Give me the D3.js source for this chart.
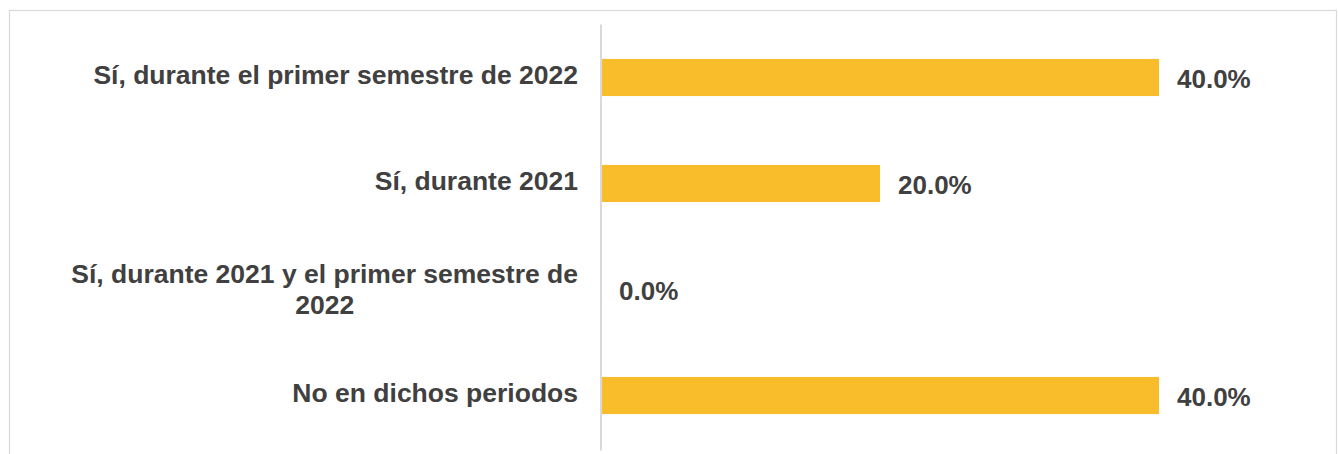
<!DOCTYPE html>
<html>
<head>
<meta charset="utf-8">
<script src="https://cdn.jsdelivr.net/npm/d3@7"></script>
<style>
  html, body { margin: 0; padding: 0; background: #fff; }
  svg { display: block; }
</style>
</head>
<body>
<div id="chart"></div>
<script>
var categories = [
  "Sí, durante el primer semestre de 2022",
  "Sí, durante 2021",
  "Sí, durante 2021 y el primer semestre de 2022",
  "No en dichos periodos"
];
var values = [0.40, 0.20, 0.00, 0.40];
// how the long label wraps, as in the original
var labelLines = [
  ["Sí, durante el primer semestre de 2022"],
  ["Sí, durante 2021"],
  ["Sí, durante 2021 y el primer semestre de", "2022"],
  ["No en dichos periodos"]
];
var xDomain = [0, 0.5];

var W = 1338, H = 454;
var plot = {left: 601, right: 1298.5, top: 24.5, bottom: 448.5};

var svg = d3.select("#chart").append("svg")
  .attr("width", W)
  .attr("height", H);

// chart frame
svg.append("rect")
  .attr("x", 9.5).attr("y", 10.5)
  .attr("width", 1327).attr("height", 460)
  .attr("fill", "none")
  .attr("stroke", "#d9d9d9")
  .attr("stroke-width", 1.2);

var x = d3.scaleLinear().domain(xDomain).range([plot.left, plot.right]);
var y = d3.scaleBand().domain(categories)
  .range([plot.top, plot.bottom])
  .paddingInner(0.65)
  .paddingOuter(0.325);

var fmt = d3.format(".1%");

svg.selectAll("rect.bar")
  .data(categories)
  .enter().append("rect")
  .attr("class", "bar")
  .attr("x", x(0))
  .attr("y", function(d) { return y(d); })
  .attr("width", function(d, i) { return x(values[i]) - x(0); })
  .attr("height", y.bandwidth())
  .attr("fill", "#f9bc2a");

// vertical category axis line
svg.append("line")
  .attr("x1", x(0)).attr("x2", x(0))
  .attr("y1", plot.top).attr("y2", plot.bottom + 2)
  .attr("stroke", "#d9d9d9")
  .attr("stroke-width", 2);

// category labels
var labelX = x(0) - 23;
categories.forEach(function(c, i) {
  var cy = y(c) + y.bandwidth() / 2;
  var lines = labelLines[i];
  var g = svg.append("g")
    .attr("font-family", "Arial, 'Liberation Sans', sans-serif")
    .attr("font-weight", "bold")
    .attr("font-size", "26.5px")
    .attr("fill", "#404040");
  if (lines.length == 1) {
    g.append("text")
      .attr("x", labelX)
      .attr("y", cy + 6)
      .attr("text-anchor", "end")
      .text(lines[0]);
  } else {
    var t1 = g.append("text")
      .attr("x", labelX)
      .attr("y", cy - 7)
      .attr("text-anchor", "end")
      .text(lines[0]);
    var w1 = t1.node().getComputedTextLength();
    g.append("text")
      .attr("x", labelX - w1 / 2)
      .attr("y", cy + 24)
      .attr("text-anchor", "middle")
      .text(lines[1]);
  }
});

// value labels
svg.selectAll("text.val")
  .data(categories)
  .enter().append("text")
  .attr("class", "val")
  .attr("x", function(d, i) { return x(values[i]) + 18; })
  .attr("y", function(d) { return y(d) + y.bandwidth() / 2 + 10.5; })
  .attr("font-family", "Arial, 'Liberation Sans', sans-serif")
  .attr("font-weight", "bold")
  .attr("font-size", "26px")
  .attr("fill", "#404040")
  .text(function(d, i) { return fmt(values[i]); });
</script>
</body>
</html>
